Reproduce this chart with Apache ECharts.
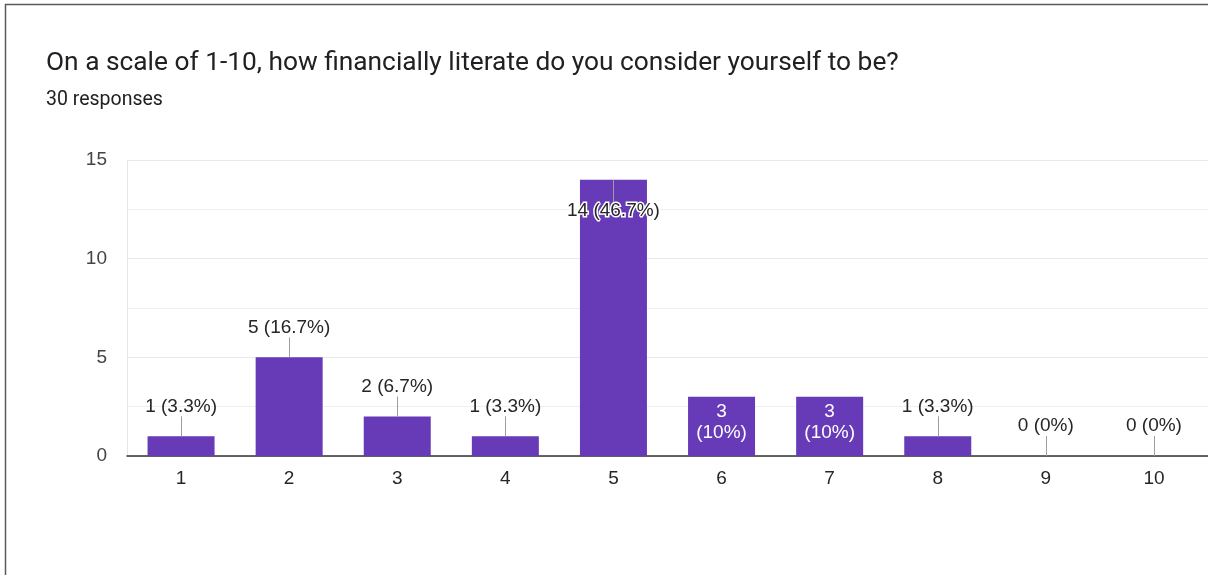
<!DOCTYPE html>
<html>
<head>
<meta charset="utf-8">
<script src="https://cdn.jsdelivr.net/npm/echarts@6/dist/echarts.min.js"></script>
<style>
  html, body { margin: 0; padding: 0; background: #fff; overflow: hidden; }
  #chart { width: 1208px; height: 575px; }
</style>
</head>
<body>
<div id="chart"></div>
<script>
// Survey: self-rated financial literacy (1-10)
const questionTitle = 'On a scale of 1-10, how financially literate do you consider yourself to be?';
const responseNote = '30 responses';
const totalResponses = 30;
const categories = ['1', '2', '3', '4', '5', '6', '7', '8', '9', '10'];
const counts = [1, 5, 2, 1, 14, 3, 3, 1, 0, 0];
const yAxisMax = 15;
const yAxisStep = 5;

// Where each annotation sits relative to its bar
const annotationPlacement = ['above', 'above', 'above', 'above', 'below', 'inside', 'inside', 'above', 'above', 'above'];

const LABEL_FONT = '19px "Liberation Sans", Arial, sans-serif';

function percentText(v) {
  const p = Math.round(v / totalResponses * 1000) / 10;
  return (p % 1 === 0 ? p.toFixed(0) : p.toFixed(1)) + '%';
}

function renderAnnotation(params, api) {
  const i = params.dataIndex;
  const v = api.value(1);
  const pt = api.coord([api.value(0), v]);
  const x = Math.round(pt[0]) + 0.5;
  const y = pt[1];
  const mode = annotationPlacement[i];
  const children = [];
  const stemStyle = { stroke: '#9e9e9e', lineWidth: 1 };
  if (mode === 'above') {
    children.push({ type: 'line', shape: { x1: x, y1: y, x2: x, y2: y - 20 }, style: stemStyle });
    children.push({ type: 'text', x: pt[0], y: y - 30,
      style: { text: v + ' (' + percentText(v) + ')', fill: '#262626', font: LABEL_FONT,
               align: 'center', verticalAlign: 'middle' } });
  } else if (mode === 'below') {
    children.push({ type: 'line', shape: { x1: x, y1: y, x2: x, y2: y + 24 }, style: stemStyle });
    children.push({ type: 'text', x: pt[0], y: y + 31,
      style: { text: v + ' (' + percentText(v) + ')', fill: '#262626', font: LABEL_FONT,
               align: 'center', verticalAlign: 'middle', stroke: '#fff', lineWidth: 3 } });
  } else {
    children.push({ type: 'text', x: pt[0], y: y + 25,
      style: { text: v + '\n(' + percentText(v) + ')', fill: '#fff', font: LABEL_FONT,
               lineHeight: 21, align: 'center', verticalAlign: 'middle' } });
  }
  return { type: 'group', children: children };
}

const chart = echarts.init(document.getElementById('chart'), null, { renderer: 'canvas' });

chart.setOption({
  backgroundColor: '#fff',
  animation: false,
  title: [
    { text: questionTitle, left: 46, top: 50, padding: 0,
      textStyle: { fontFamily: 'Roboto', fontSize: 26.3, fontWeight: 'normal', color: '#202124' } },
    { text: responseNote, left: 46, top: 90, padding: 0,
      textStyle: { fontFamily: 'Roboto', fontSize: 19.5, fontWeight: 'normal', color: '#202124' } }
  ],
  graphic: [
    { type: 'rect', silent: true, shape: { x: 5.5, y: 4.5, width: 1400, height: 800 },
      style: { fill: 'none', stroke: '#5a5a5a', lineWidth: 1.5 } }
  ],
  grid: { left: 127, right: -3, top: 160, bottom: 119, containLabel: false },
  xAxis: {
    type: 'category',
    data: categories,
    axisTick: { show: false },
    axisLine: { lineStyle: { color: '#333', width: 1.5 } },
    axisLabel: { color: '#262626', fontSize: 19, fontFamily: '"Liberation Sans", Arial', margin: 13 },
    splitLine: { show: false }
  },
  yAxis: {
    type: 'value',
    min: 0, max: yAxisMax, interval: yAxisStep,
    axisLine: { show: true, lineStyle: { color: '#e6e6e6' } },
    axisTick: { show: false },
    axisLabel: { color: '#444', fontSize: 19, fontFamily: '"Liberation Sans", Arial', margin: 20 },
    splitLine: { lineStyle: { color: '#e9e9e9' } },
    minorTick: { show: false, splitNumber: 2 },
    minorSplitLine: { show: true, lineStyle: { color: '#efefef' } }
  },
  series: [
    {
      type: 'bar',
      data: counts,
      barWidth: 67,
      itemStyle: { color: '#673ab7' },
      z: 2
    },
    {
      type: 'custom',
      data: counts.map((v, i) => [i, v]),
      renderItem: renderAnnotation,
      z: 5,
      silent: true
    }
  ]
});
</script>
</body>
</html>
